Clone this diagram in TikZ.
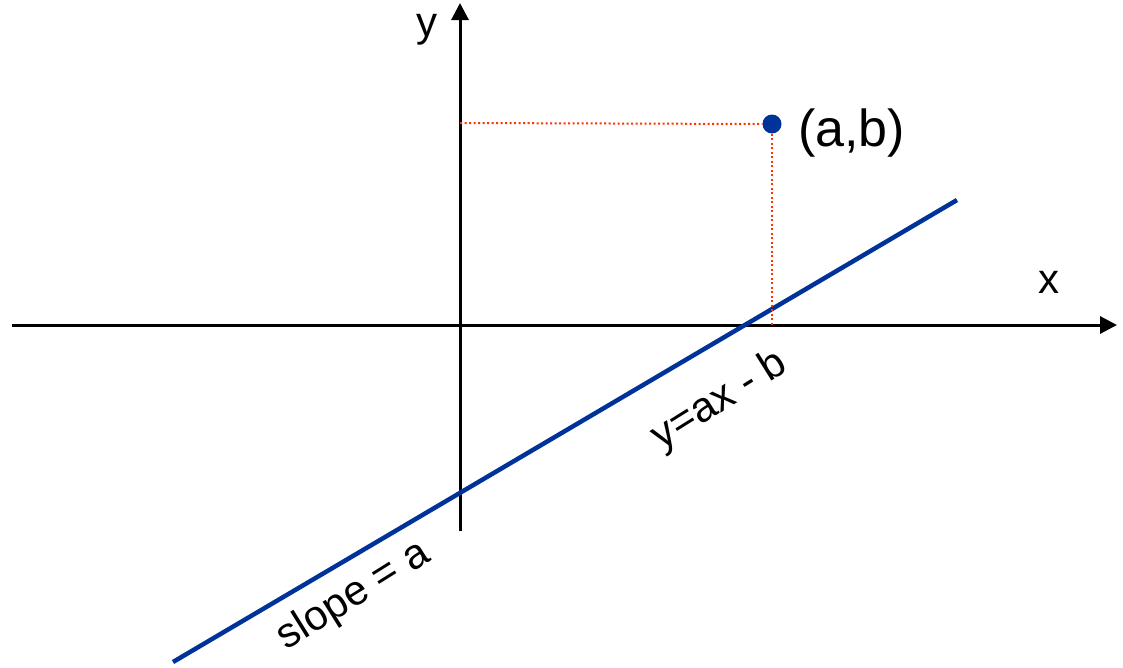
\documentclass[tikz,border=0pt]{standalone}
\usepackage{fontspec}
\setmainfont{Liberation Sans}
\usetikzlibrary{arrows.meta}
\definecolor{lineblue}{HTML}{003399}
\definecolor{dotred}{HTML}{FF3300}
\begin{document}
\begin{tikzpicture}[x=1pt,y=-1pt,
  axis/.style={line width=3pt,-{Triangle[length=17pt,width=17pt]}},
  guide/.style={dotred,line width=2pt,dash pattern=on 2pt off 2.5pt},
  lbl/.style={inner sep=0pt,font=\fontsize{42}{46}\selectfont}]
\useasboundingbox (0,0) rectangle (1123,667);
\coordinate (xs) at (12,325);
\coordinate (xe) at (1117,325);
\coordinate (ys) at (460,531);
\coordinate (ye) at (460,3);
\coordinate (ls) at (173,662);
\coordinate (le) at (957,200);
\coordinate (hy) at (460,123);
\coordinate (vx) at (772,325);
\draw[axis] (xs) -- (xe);
\draw[axis] (ys) -- (ye);
\draw[lineblue,line width=4.5pt] (ls) -- (le);
\node[circle,fill=lineblue,minimum size=19pt,inner sep=0pt] (p) at (772,124) {};
\draw[guide] (hy) -- (p.west);
\draw[guide] (p.south) -- (vx);
\node[lbl] (ylab) at (427,30) {y};
\node[lbl] (xlab) at (1049,282) {x};
\node[lbl,font=\fontsize{52}{56}\selectfont,anchor=west] (ab) at (798,133) {(a,b)};
\node[lbl,rotate=32] (eq) at (720,401) {y=ax - b};
\node[lbl,rotate=32] (sl) at (354,596) {slope = a};
\end{tikzpicture}
\end{document}
